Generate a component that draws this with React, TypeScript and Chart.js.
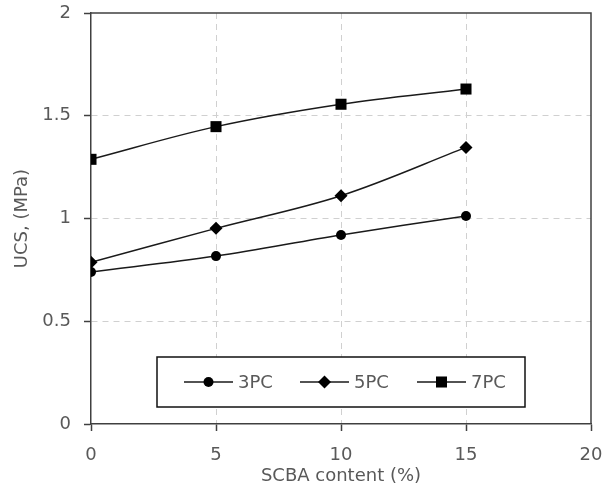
import React, { useEffect, useRef } from "react";
import { Chart, registerables } from "chart.js";

Chart.register(...registerables);

const xValues = [0, 5, 10, 15];
const series3PC = [0.74, 0.817, 0.92, 1.012];
const series5PC = [0.787, 0.952, 1.111, 1.346];
const series7PC = [1.288, 1.447, 1.556, 1.63];
const seriesLabels = ["3PC", "5PC", "7PC"];
const seriesMarkers = ["circle", "rectRot", "rect"];
const seriesRadius = [5, 6.5, 7.8];
const xTitle = "SCBA content (%)";
const yTitle = "UCS, (MPa)";

const FONT = "'DejaVu Sans', sans-serif";
const TEXT = "#595959";
const AXIS = "#404040";

export default function App() {
  const ref = useRef<HTMLCanvasElement | null>(null);
  useEffect(() => {
    document.body.style.margin = "0";
    const canvas = ref.current!;
    const all = [series3PC, series5PC, series7PC];
    const datasets = all.map((vals, i) => ({
      label: seriesLabels[i],
      data: vals.map((v, j) => ({ x: xValues[j], y: v })),
      borderColor: "#1a1a1a",
      backgroundColor: "#000",
      borderWidth: 1.5,
      pointStyle: seriesMarkers[i] as any,
      pointRadius: seriesRadius[i],
      pointBorderWidth: 0,
      tension: 0.35,
      fill: false,
    }));

    const framePlugin = {
      id: "frame",
      afterDatasetsDraw(chart: any) {
        const { ctx, chartArea: a } = chart;
        ctx.save();
        ctx.strokeStyle = AXIS;
        ctx.lineWidth = 1.5;
        ctx.beginPath();
        ctx.moveTo(a.left, a.top);
        ctx.lineTo(a.right, a.top);
        ctx.lineTo(a.right, a.bottom);
        ctx.stroke();
        // legend box
        const bx = 157, by = 357, bw = 368, bh = 50;
        ctx.fillStyle = "#fff";
        ctx.fillRect(bx, by, bw, bh);
        ctx.strokeStyle = "#111";
        ctx.lineWidth = 1.5;
        ctx.strokeRect(bx, by, bw, bh);
        const cy = by + bh / 2;
        const starts = [184, 300, 417];
        ctx.font = `18px ${FONT}`;
        ctx.textBaseline = "middle";
        starts.forEach((sx, i) => {
          ctx.strokeStyle = "#1a1a1a";
          ctx.lineWidth = 1.5;
          ctx.beginPath();
          ctx.moveTo(sx, cy);
          ctx.lineTo(sx + 49, cy);
          ctx.stroke();
          ctx.fillStyle = "#000";
          const mx = sx + 24.5;
          const r = seriesRadius[i];
          ctx.beginPath();
          if (seriesMarkers[i] === "circle") {
            ctx.arc(mx, cy, r, 0, Math.PI * 2);
          } else if (seriesMarkers[i] === "rectRot") {
            ctx.moveTo(mx - r, cy);
            ctx.lineTo(mx, cy - r);
            ctx.lineTo(mx + r, cy);
            ctx.lineTo(mx, cy + r);
            ctx.closePath();
          } else {
            const s = r * Math.SQRT1_2;
            ctx.rect(mx - s, cy - s, 2 * s, 2 * s);
          }
          ctx.fill();
          ctx.fillStyle = TEXT;
          ctx.textAlign = "left";
          ctx.fillText(seriesLabels[i], sx + 54, cy + 1);
        });
        ctx.restore();
      },
    };

    const chart = new Chart(canvas, {
      type: "line",
      data: { datasets },
      plugins: [framePlugin],
      options: {
        animation: false,
        responsive: false,
        maintainAspectRatio: false,
        layout: { padding: { top: 13, right: 15, left: 12, bottom: 0 } },
        plugins: { legend: { display: false }, tooltip: { enabled: false } },
        scales: {
          x: {
            type: "linear",
            min: 0,
            max: 20,
            afterFit(s: any) { s.height = 67; s.paddingRight = 0; s.paddingLeft = 0; },
            ticks: { stepSize: 5, color: TEXT, font: { family: FONT, size: 18 }, padding: 14 },
            grid: {
              color: (c: any) => (c.tick && (c.tick.value === 0 || c.tick.value === 20) ? "rgba(0,0,0,0)" : "#d0d0d0"),
              lineWidth: 1,
              tickColor: AXIS,
              tickLength: 7,
              tickWidth: 1.5,
              tickBorderDash: [],
            } as any,
            border: { color: AXIS, width: 1.5, dash: [6, 5] },
            title: { display: true, text: xTitle, color: TEXT, font: { family: FONT, size: 18 }, padding: { top: 0, bottom: 4 } },
          },
          y: {
            type: "linear",
            min: 0,
            max: 2,
            afterFit(s: any) { s.width = 79; s.paddingTop = 0; s.paddingBottom = 0; },
            ticks: {
              stepSize: 0.5,
              color: TEXT,
              font: { family: FONT, size: 18 },
              padding: 13,
              callback: (v: any) => String(Number(v)),
            },
            grid: {
              color: (c: any) => (c.tick && (c.tick.value === 0 || c.tick.value === 2) ? "rgba(0,0,0,0)" : "#d0d0d0"),
              lineWidth: 1,
              tickColor: AXIS,
              tickLength: 7,
              tickWidth: 1.5,
              tickBorderDash: [],
            } as any,
            border: { color: AXIS, width: 1.5, dash: [6, 5] },
            title: { display: true, text: yTitle, color: TEXT, font: { family: FONT, size: 18 }, padding: { top: 0, bottom: 4 } },
          },
        },
      },
    });
    return () => chart.destroy();
  }, []);
  return (
    <div style={{ width: 606, height: 491, background: "#fff" }}>
      <canvas ref={ref} width={606} height={491} style={{ width: 606, height: 491, display: "block" }} />
    </div>
  );
}
